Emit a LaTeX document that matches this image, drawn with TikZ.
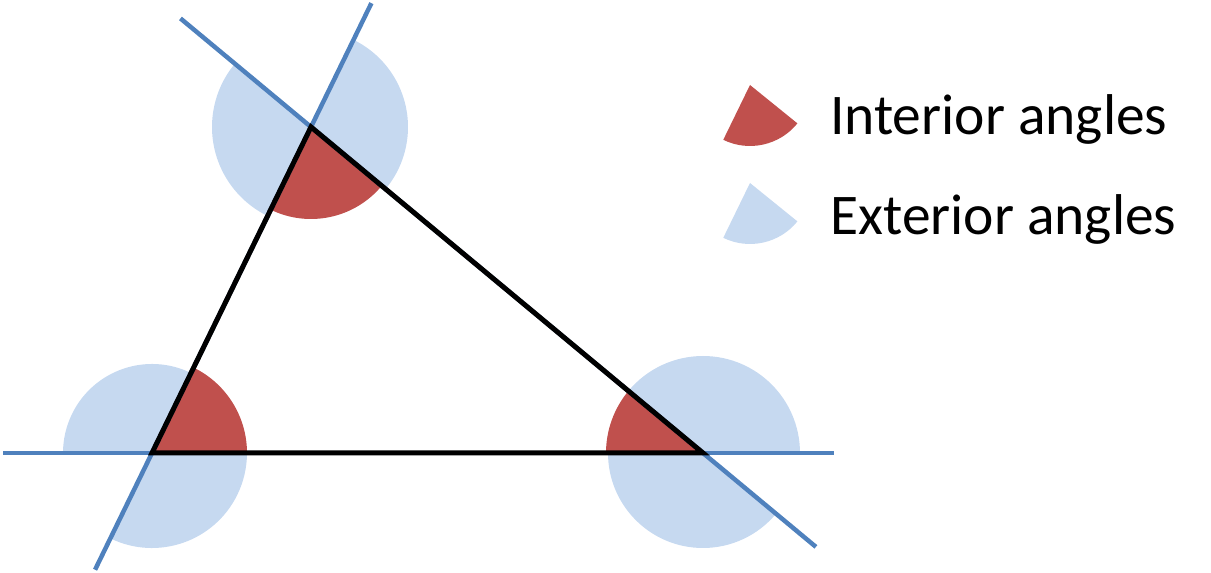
\documentclass[tikz,border=0pt]{standalone}
\usepackage{fontspec}
\setmainfont{Carlito}
\usetikzlibrary{calc}
\definecolor{angred}{RGB}{192,80,77}
\definecolor{angblue}{RGB}{198,217,240}
\definecolor{lineblue}{RGB}{79,129,189}

\begin{document}
\begin{tikzpicture}[x=1pt, y=1pt,
	interior/.style={fill=angred},
	exterior/.style={fill=angblue},
	extline/.style={draw=lineblue, line width=4.5pt},
	side/.style={draw=black, line width=5pt},
	legendtext/.style={anchor=base west, inner sep=0pt, font=\fontsize{57.5}{66}\selectfont}]
	\useasboundingbox (0, 0) rectangle (1211, 573);

	\coordinate (A) at (152, 120);
	\coordinate (B) at (311, 446);
	\coordinate (C) at (703, 120);

	\begin{scope}
		\fill[exterior] (A) -- ++(64:89) arc[start angle=64, end angle=180, radius=89] -- cycle;
		\fill[exterior] (A) -- ++(244:95) arc[start angle=244, end angle=360, radius=95] -- cycle;
		\fill[exterior] (B) -- ++(140:99) arc[start angle=140, end angle=244, radius=99] -- cycle;
		\fill[exterior] (B) -- ++(-40:97) arc[start angle=-40, end angle=64, radius=97] -- cycle;
		\fill[exterior] (C) -- ++(0:97) arc[start angle=0, end angle=140, radius=97] -- cycle;
		\fill[exterior] (C) -- ++(180:95) arc[start angle=180, end angle=320, radius=95] -- cycle;

		\fill[interior] (A) -- ++(0:95) arc[start angle=0, end angle=64, radius=95] -- cycle;
		\fill[interior] (B) -- ++(244:92) arc[start angle=244, end angle=320, radius=92] -- cycle;
		\fill[interior] (C) -- ++(140:97) arc[start angle=140, end angle=180, radius=97] -- cycle;
	\end{scope}

	\coordinate (a1) at ($(B)!1.358!(A)$);
	\coordinate (b1) at ($(A)!1.38!(B)$);
	\coordinate (b2) at ($(C)!1.333!(B)$);
	\coordinate (c1) at ($(B)!1.288!(C)$);
	\coordinate (a2) at ($(C)!1.27!(A)$);
	\coordinate (c2) at ($(A)!1.238!(C)$);

	\draw[extline] (a1) -- (b1);
	\draw[extline] (b2) -- (c1);
	\draw[extline] (a2) -- (c2);

	\draw[side] (A) -- (B) -- (C) -- cycle;

	\coordinate (keyint) at (750, 488);
	\coordinate (keyext) at (750, 390);
	\fill[interior] (keyint) -- ++(244:61) arc[start angle=244, end angle=321, radius=61] -- cycle;
	\fill[exterior] (keyext) -- ++(244:61) arc[start angle=244, end angle=321, radius=61] -- cycle;

	\node[legendtext] (inttext) at (830, 438) {Interior angles};
	\node[legendtext] (exttext) at (830, 338) {Exterior angles};
\end{tikzpicture}
\end{document}
